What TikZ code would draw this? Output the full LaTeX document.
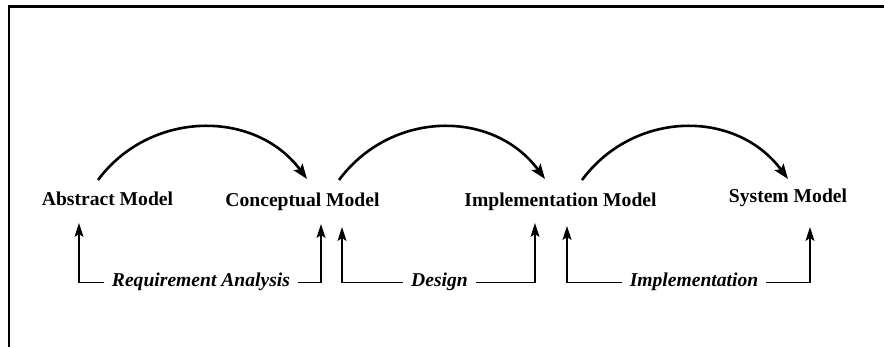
\documentclass[tikz,border=0pt]{standalone}
\usepackage{fontspec}
\setmainfont{Liberation Serif}
\usetikzlibrary{arrows.meta}
\tikzset{
  model/.style={font=\fontsize{19.6}{22}\selectfont\bfseries, inner sep=0pt, anchor=base},
  act/.style={font=\fontsize{19.6}{22}\selectfont\bfseries\itshape, inner xsep=8pt, inner ysep=0pt,
    text height=13pt, text depth=4pt, anchor=base},
  arc/.style={line width=2.6pt, -{Stealth[length=15pt,width=11pt,inset=3pt]}},
  fb/.style={line width=1.4pt, -{Stealth[length=14pt,width=9pt,inset=3pt]}},
  frame/.style={line width=2.6pt}
}
\begin{document}
\begin{tikzpicture}[x=1pt,y=-1pt]
\useasboundingbox (0,0) rectangle (884,347);
\draw[frame] (884,6.5) -- (9,6.5) -- (9,347);

\node[model] (abs)  at (107.5,206) {Abstract Model};
\node[model] (conc) at (302.5,207) {Conceptual Model};
\node[model] (impl) at (560.5,207) {Implementation Model};
\node[model] (sys)  at (788,203)   {System Model};

\node[act] (ra)  at (201,287)   {Requirement Analysis};
\node[act] (des) at (439.5,287) {Design};
\node[act] (imp) at (694,287)   {Implementation};

\draw[arc] ([shift={(-9.5,-26)}]abs.base) .. controls +(52,-70) and +(-52,-70) .. ([shift={(4.5,-28)}]conc.base);
\draw[arc] ([shift={(36.5,-27)}]conc.base) .. controls +(52,-70) and +(-52,-70) .. ([shift={(-15.5,-28)}]impl.base);
\draw[arc] ([shift={(21.5,-27)}]impl.base) .. controls +(52,-70) and +(-52,-70) .. ([shift={(0,-24)}]sys.base);

\draw[fb] (ra.west) -| ([shift={(-28.5,17)}]abs.base);
\draw[fb] (ra.east) -| ([shift={(18.5,17)}]conc.base);
\draw[fb] (des.west) -| ([shift={(39.5,20)}]conc.base);
\draw[fb] (des.east) -| ([shift={(-25.5,16)}]impl.base);
\draw[fb] (imp.west) -| ([shift={(6.5,19)}]impl.base);
\draw[fb] (imp.east) -| ([shift={(22,24)}]sys.base);
\end{tikzpicture}
\end{document}
